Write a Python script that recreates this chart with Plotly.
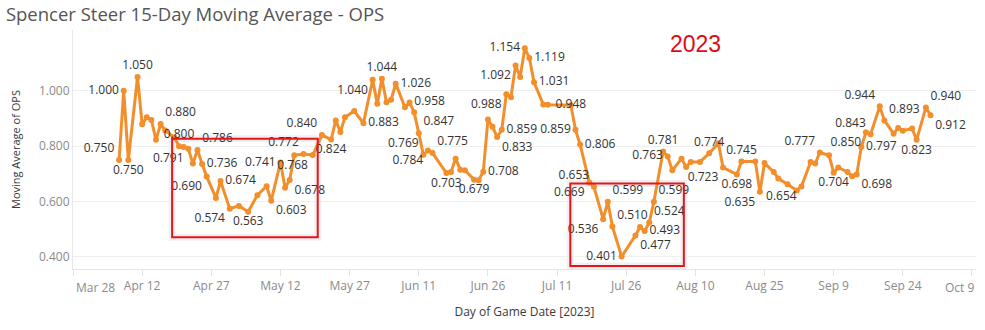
import plotly.graph_objects as go

# Game dates and 15-day moving average OPS for Spencer Steer, 2023
game_dates = [
    "2023-04-07", "2023-04-08", "2023-04-09", "2023-04-11", "2023-04-12", "2023-04-13",
    "2023-04-14", "2023-04-15", "2023-04-16", "2023-04-17", "2023-04-19", "2023-04-20",
    "2023-04-21", "2023-04-22", "2023-04-23", "2023-04-24", "2023-04-25", "2023-04-26",
    "2023-04-28", "2023-04-29", "2023-05-01", "2023-05-03", "2023-05-05", "2023-05-07",
    "2023-05-09", "2023-05-10", "2023-05-12", "2023-05-13", "2023-05-14", "2023-05-15",
    "2023-05-17", "2023-05-19", "2023-05-21", "2023-05-23", "2023-05-24", "2023-05-25",
    "2023-05-26", "2023-05-28", "2023-05-30", "2023-06-01", "2023-06-02", "2023-06-03",
    "2023-06-04", "2023-06-05", "2023-06-06", "2023-06-08", "2023-06-09", "2023-06-10",
    "2023-06-11", "2023-06-12", "2023-06-13", "2023-06-14", "2023-06-17", "2023-06-18",
    "2023-06-19", "2023-06-20", "2023-06-21", "2023-06-23", "2023-06-24", "2023-06-25",
    "2023-06-26", "2023-06-27", "2023-06-28", "2023-06-29", "2023-06-30", "2023-07-01",
    "2023-07-02", "2023-07-03", "2023-07-04", "2023-07-05", "2023-07-06", "2023-07-08",
    "2023-07-09", "2023-07-14", "2023-07-15", "2023-07-16", "2023-07-18", "2023-07-19",
    "2023-07-21", "2023-07-22", "2023-07-23", "2023-07-25", "2023-07-28", "2023-07-29",
    "2023-07-30", "2023-07-31", "2023-08-01", "2023-08-03", "2023-08-04", "2023-08-05",
    "2023-08-07", "2023-08-08", "2023-08-09", "2023-08-11", "2023-08-13", "2023-08-15",
    "2023-08-16", "2023-08-19", "2023-08-20", "2023-08-23", "2023-08-24", "2023-08-25",
    "2023-08-27", "2023-08-28", "2023-08-30", "2023-09-01", "2023-09-02", "2023-09-04",
    "2023-09-05", "2023-09-06", "2023-09-08", "2023-09-09", "2023-09-10", "2023-09-12",
    "2023-09-13", "2023-09-14", "2023-09-15", "2023-09-16", "2023-09-17", "2023-09-19",
    "2023-09-20", "2023-09-22", "2023-09-23", "2023-09-24", "2023-09-26", "2023-09-27",
    "2023-09-29", "2023-09-30",
]

ops_avg = [
    0.750, 1.000, 0.750, 1.050, 0.879, 0.905,
    0.895, 0.823, 0.880, 0.857, 0.831, 0.800,
    0.797, 0.791, 0.737, 0.786, 0.736, 0.690,
    0.613, 0.674, 0.574, 0.584, 0.563, 0.623,
    0.655, 0.603, 0.741, 0.650, 0.678, 0.767,
    0.772, 0.768, 0.840, 0.824, 0.893, 0.851,
    0.905, 0.927, 0.883, 1.040, 0.953, 1.044,
    0.959, 0.968, 1.026, 0.941, 0.958, 0.923,
    0.847, 0.769, 0.784, 0.775, 0.703, 0.707,
    0.755, 0.715, 0.713, 0.679, 0.677, 0.708,
    0.896, 0.870, 0.833, 0.859, 0.988, 0.977,
    1.092, 1.050, 1.154, 1.119, 1.031, 0.951,
    0.950, 0.948, 0.859, 0.806, 0.669, 0.653,
    0.536, 0.599, 0.510, 0.401, 0.477, 0.508,
    0.493, 0.524, 0.599, 0.781, 0.763, 0.713,
    0.755, 0.725, 0.743, 0.743, 0.774, 0.811,
    0.723, 0.698, 0.745, 0.745, 0.635, 0.739,
    0.707, 0.683, 0.662, 0.640, 0.654, 0.743,
    0.737, 0.777, 0.767, 0.704, 0.723, 0.707,
    0.691, 0.698, 0.797, 0.850, 0.843, 0.944,
    0.893, 0.845, 0.866, 0.856, 0.864, 0.823,
    0.940, 0.912,
]

# Axis ticks
tick_dates = ["2023-03-28", "2023-04-12", "2023-04-27", "2023-05-12", "2023-05-27",
              "2023-06-11", "2023-06-26", "2023-07-11", "2023-07-26", "2023-08-10",
              "2023-08-25", "2023-09-09", "2023-09-24", "2023-10-09"]
tick_labels = ["Mar 28", "Apr 12", "Apr 27", "May 12", "May 27", "Jun 11", "Jun 26",
               "Jul 11", "Jul 26", "Aug 10", "Aug 25", "Sep 9", "Sep 24", "Oct 9"]
y_ticks = [0.4, 0.6, 0.8, 1.0]

# Highlighted slumps: (start, end, low, high)
slumps = [
    ("2023-04-18 12:00", "2023-05-20 02:00", 0.471, 0.827),
    ("2023-07-13 21:00", "2023-08-07 12:00", 0.367, 0.665),
]

# Where each value label sits relative to its point
label_pos = {
    "2023-04-07": "top left", "2023-04-08": "middle left", "2023-04-09": "bottom center",
    "2023-04-11": "top center", "2023-04-16": "top right", "2023-04-20": "top center",
    "2023-04-22": "bottom left", "2023-04-24": "top right", "2023-04-25": "middle right",
    "2023-04-26": "bottom left", "2023-04-29": "middle right", "2023-05-01": "bottom left",
    "2023-05-05": "bottom center", "2023-05-10": "bottom right", "2023-05-12": "middle left",
    "2023-05-14": "bottom right", "2023-05-17": "top left", "2023-05-19": "bottom left",
    "2023-05-21": "top left", "2023-05-23": "bottom center", "2023-05-30": "middle right",
    "2023-06-01": "bottom left", "2023-06-03": "top center", "2023-06-06": "middle right",
    "2023-06-09": "middle right", "2023-06-11": "top right", "2023-06-12": "top left",
    "2023-06-13": "bottom left", "2023-06-14": "top right", "2023-06-17": "bottom center",
    "2023-06-23": "bottom center", "2023-06-25": "middle right", "2023-06-28": "bottom right",
    "2023-06-29": "middle right", "2023-06-30": "bottom left", "2023-07-02": "bottom left",
    "2023-07-04": "middle left", "2023-07-05": "middle right", "2023-07-06": "middle right",
    "2023-07-14": "middle center", "2023-07-15": "middle left", "2023-07-16": "middle right",
    "2023-07-18": "bottom left", "2023-07-19": "top left", "2023-07-21": "bottom left",
    "2023-07-22": "top right", "2023-07-23": "top right", "2023-07-25": "middle left",
    "2023-07-28": "bottom right", "2023-07-30": "middle right", "2023-07-31": "top right",
    "2023-08-01": "top right", "2023-08-03": "top center", "2023-08-04": "middle left",
    "2023-08-13": "top center", "2023-08-16": "bottom left", "2023-08-19": "bottom center",
    "2023-08-20": "top center", "2023-08-24": "bottom left", "2023-09-02": "bottom left",
    "2023-09-06": "top left", "2023-09-09": "bottom center", "2023-09-14": "bottom right",
    "2023-09-15": "middle right", "2023-09-16": "bottom left", "2023-09-17": "top left",
    "2023-09-19": "top left", "2023-09-20": "top right", "2023-09-27": "bottom center",
    "2023-09-29": "top right", "2023-09-30": "bottom right",
}

texts = [f"{v:.3f}" if d in label_pos else "" for d, v in zip(game_dates, ops_avg)]
positions = [label_pos.get(d, "top center") for d in game_dates]

ORANGE = "#F28E2B"
FONT = "Open Sans, Lato, sans-serif"

fig = go.Figure()
fig.add_trace(go.Scatter(
    x=game_dates, y=ops_avg,
    mode="lines+markers+text",
    line=dict(color=ORANGE, width=3),
    marker=dict(color=ORANGE, size=6),
    text=texts, textposition=positions,
    textfont=dict(family=FONT, size=12, color="#333333"),
    cliponaxis=False, showlegend=False,
))

# Red frames with a soft shadow around the two slumps
for x0, x1, y0, y1 in slumps:
    fig.add_shape(type="rect", xref="x", yref="y", x0=x0, x1=x1, y0=y0, y1=y1,
                  line=dict(color="rgba(0,0,0,0.06)", width=7), layer="below")
    fig.add_shape(type="rect", xref="x", yref="y", x0=x0, x1=x1, y0=y0, y1=y1,
                  line=dict(color="#E8141C", width=2), layer="above")

annotations = [
    dict(text="2023", xref="paper", yref="paper", x=0.689, y=0.942,
         xanchor="center", yanchor="middle", showarrow=False,
         font=dict(family="Liberation Sans, Arial", size=23, color="#E00A14")),
    dict(text=tick_labels[0], xref="x", yref="paper", x=tick_dates[0], y=0,
         xanchor="left", yanchor="top", yshift=-8, xshift=1, showarrow=False,
         font=dict(family=FONT, size=12, color="#8a8a8a")),
    dict(text=tick_labels[-1], xref="paper", yref="paper", x=1, y=0,
         xanchor="right", yanchor="top", yshift=-8, showarrow=False,
         font=dict(family=FONT, size=12, color="#8a8a8a")),
]

fig.update_layout(
    width=985, height=330,
    margin=dict(l=73, r=9, t=30, b=61),
    paper_bgcolor="white", plot_bgcolor="white",
    font=dict(family=FONT),
    title=dict(text="Spencer Steer 15-Day Moving Average - OPS",
               x=0.006, xanchor="left", y=0.955, yanchor="middle",
               font=dict(family=FONT, size=18.5, color="#555555")),
    annotations=annotations,
)

fig.update_xaxes(
    type="date", range=["2023-03-28", "2023-10-09 21:00"],
    tickvals=tick_dates, ticktext=[""] + tick_labels[1:-1] + [""],
    ticks="outside", ticklen=6, tickcolor="#e4e4e4",
    tickfont=dict(family=FONT, size=12, color="#8a8a8a"),
    showgrid=False, showline=True, linecolor="#e4e4e4", linewidth=1,
    zeroline=False,
    title=dict(text="Day of Game Date [2023]", standoff=14,
               font=dict(family=FONT, size=12, color="#3a3a3a")),
)
fig.update_yaxes(
    range=[0.356, 1.22],
    tickvals=y_ticks, ticktext=[f"{t:.3f}" for t in y_ticks],
    tickfont=dict(family=FONT, size=12, color="#8a8a8a"),
    showgrid=True, gridcolor="#efefef", gridwidth=1,
    showline=True, linecolor="#e8e8e8", zeroline=False, ticks="",
    title=dict(text="Moving Average of OPS", standoff=16,
               font=dict(family=FONT, size=11, color="#3a3a3a")),
)

fig.write_html("out.html")
